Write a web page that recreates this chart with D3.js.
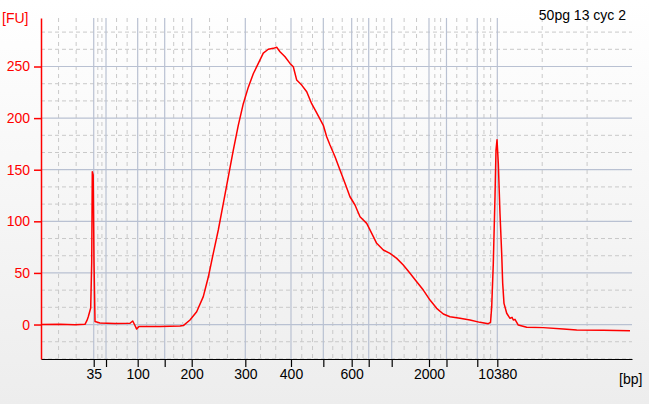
<!DOCTYPE html>
<html><head><meta charset="utf-8">
<script src="https://cdn.jsdelivr.net/npm/d3@7"></script>
<style>body{margin:0;background:#fff;} svg{display:block;}</style>
</head><body><svg id="chart" width="649" height="404"></svg>
<script>
// Ladder (size standard) in bp and its migration time (s)
const ladderBp   = [35, 50, 100, 150, 200, 300, 400, 500, 600, 700, 1000, 2000, 3000, 7000, 10380];
const ladderTime = [41.92, 44.00, 49.36, 53.93, 58.50, 67.57, 75.30, 80.77, 85.57, 88.45, 92.34, 98.65, 101.61, 106.82, 110.21];
const labeledBp  = [35, 100, 200, 300, 400, 600, 2000, 10380];
const yTicks     = [0, 50, 100, 150, 200, 250];
const sampleName = "50pg 13 cyc 2";

// Electropherogram trace: time (s) and fluorescence (FU)
const traceTime = [33.00, 36.21, 38.75, 40.44, 40.78, 41.00, 41.41, 41.58, 41.68, 41.83, 41.97, 42.14, 42.98, 45.52, 48.06, 48.52, 48.82, 49.19, 49.58, 53.14, 56.52, 57.08, 58.21, 59.34, 60.46, 61.31, 62.15, 63.00, 63.85, 64.69, 65.54, 66.38, 67.23, 68.08, 68.92, 69.77, 70.61, 71.46, 72.31, 72.88, 73.44, 74.29, 75.13, 75.69, 76.26, 77.11, 77.96, 78.80, 79.65, 80.77, 81.34, 81.90, 82.75, 83.59, 84.44, 85.28, 86.13, 86.98, 88.11, 88.96, 89.80, 90.92, 92.05, 93.19, 94.30, 95.44, 96.57, 97.69, 98.82, 99.95, 101.07, 102.20, 103.89, 105.59, 107.28, 108.68, 109.06, 109.26, 109.53, 109.82, 109.99, 110.16, 110.38, 110.66, 110.95, 111.12, 111.34, 111.80, 112.36, 112.70, 112.92, 113.20, 113.76, 115.18, 117.99, 121.38, 123.64, 128.14, 132.66];
const traceFU   = [0.0, 0.3, -0.2, 0.2, 4.0, 7.5, 16, 60, 148, 145, 60, 3.0, 1.5, 1.0, 1.2, 3.4, 0.0, -4.4, -2.0, -2.0, -1.5, -1.0, 4.4, 12.4, 27, 46, 69, 91.6, 117.4, 143, 169, 193, 214, 230, 243, 253, 263, 266.7, 267.6, 268.6, 264.3, 259.5, 253, 249.8, 237, 232, 225.6, 214, 205, 193, 182, 174, 162.6, 149.7, 136.8, 123.8, 115.8, 104.5, 98, 88.4, 78.7, 72.2, 69, 64.1, 57.7, 49.6, 41.5, 33.4, 23.7, 15.7, 10.2, 7.6, 6.0, 4.4, 2.1, 0.8, 2.0, 17, 59, 124, 169, 179, 156, 108, 69, 40, 20.5, 10.9, 6.0, 7.0, 4.4, 5.0, -0.5, -2.7, -3.0, -4.4, -5.3, -5.6, -6.0];

const svg = d3.select("#chart");
const W = 649, H = 404;
const m = {left: 41, right: 17, top: 18, bottom: 45};
const x = d3.scaleLinear().domain([33, 133]).range([m.left, W - m.right]);
const y = d3.scaleLinear().domain([-33.4, 297]).range([H - m.bottom, m.top]);
const font = "'Liberation Sans', Arial, sans-serif";

// background gradient
const defs = svg.append("defs");
const g0 = defs.append("linearGradient").attr("id", "bg").attr("x1", 0).attr("y1", 0).attr("x2", 0).attr("y2", 1);
g0.append("stop").attr("offset", "0%").attr("stop-color", "#ffffff");
g0.append("stop").attr("offset", "100%").attr("stop-color", "#ededed");
svg.append("rect").attr("width", W).attr("height", H).attr("fill", "url(#bg)");

const [x0, x1] = x.range();
const [yb, yt] = y.range();

// minor vertical gridlines: thirds of each ladder interval
const bounds = [x.domain()[0], ...ladderTime, x.domain()[1]];
const minorX = [];
for (let i = 0; i < bounds.length - 1; i++) {
  const a = bounds[i], b = bounds[i + 1];
  minorX.push(a + (b - a) / 3, a + 2 * (b - a) / 3);
}
// minor horizontal gridlines: thirds of 50 FU steps
const minorY = d3.range(-33.3333, 297, 50 / 3).filter(v => Math.abs(v / 50 - Math.round(v / 50)) > 0.01);

const grid = svg.append("g");
grid.selectAll(".mx").data(minorX).join("line")
  .attr("x1", d => x(d)).attr("x2", d => x(d)).attr("y1", yt).attr("y2", yb)
  .attr("stroke", "#c9c9c9").attr("stroke-width", 1).attr("stroke-dasharray", "4,4");
grid.selectAll(".my").data(minorY).join("line")
  .attr("x1", x0).attr("x2", x1).attr("y1", d => y(d)).attr("y2", d => y(d))
  .attr("stroke", "#c9c9c9").attr("stroke-width", 1).attr("stroke-dasharray", "4,3");
grid.selectAll(".Mx").data(ladderTime).join("line")
  .attr("x1", d => x(d)).attr("x2", d => x(d)).attr("y1", yt).attr("y2", yb)
  .attr("stroke", "#b9c1d2").attr("stroke-width", 1.2);
grid.selectAll(".My").data(yTicks).join("line")
  .attr("x1", x0).attr("x2", x1).attr("y1", d => y(d)).attr("y2", d => y(d))
  .attr("stroke", "#b9c1d2").attr("stroke-width", 1.2);

// trace
const pts = traceTime.map((t, i) => [t, traceFU[i]]);
svg.append("path").datum(pts)
  .attr("d", d3.line().x(d => x(d[0])).y(d => y(d[1])))
  .attr("fill", "none").attr("stroke", "#ff0000").attr("stroke-width", 1.5).attr("stroke-linejoin", "round");

// x axis
const bpByTime = new Map(ladderTime.map((t, i) => [t, ladderBp[i]]));
const xAxis = d3.axisBottom(x).tickValues(ladderTime).tickSize(8).tickSizeOuter(0)
  .tickFormat(t => labeledBp.includes(bpByTime.get(t)) ? String(bpByTime.get(t)) : "");
const gx = svg.append("g").attr("transform", `translate(0,${yb})`).call(xAxis);
gx.select(".domain").attr("stroke", "#000").attr("stroke-width", 1.2);
gx.selectAll(".tick line").attr("stroke", "#000").attr("stroke-width", 1.2);
gx.selectAll(".tick text").attr("font-family", font).attr("font-size", 14).attr("fill", "#000").attr("dy", "1.0em").attr("y", 6);

// y axis
const yAxis = d3.axisLeft(y).tickValues(yTicks).tickSize(7).tickPadding(4).tickSizeOuter(0);
const gy = svg.append("g").attr("transform", `translate(${x0},0)`).call(yAxis);
gy.select(".domain").attr("stroke", "#ff0000").attr("stroke-width", 1.5);
gy.selectAll(".tick line").attr("stroke", "#ff0000").attr("stroke-width", 1.5);
gy.selectAll(".tick text").attr("font-family", font).attr("font-size", 14).attr("fill", "#ff0000");

// labels
svg.append("text").attr("x", 2).attr("y", 23).text("[FU]")
  .attr("font-family", font).attr("font-size", 14).attr("fill", "#ff0000");
svg.append("text").attr("x", 619).attr("y", 384).text("[bp]")
  .attr("font-family", font).attr("font-size", 14).attr("fill", "#000");
svg.append("text").attr("x", 626).attr("y", 20).attr("text-anchor", "end").text(sampleName)
  .attr("font-family", font).attr("font-size", 14).attr("fill", "#000");
</script></body></html>
